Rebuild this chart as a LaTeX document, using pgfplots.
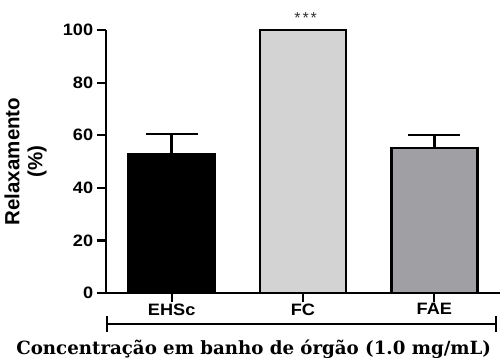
\documentclass[border=0pt]{standalone}
\usepackage{fontspec}
\setmainfont{Liberation Sans}
\newfontfamily\serifb{DejaVu Serif}
\usepackage{pgfplots}
\pgfplotsset{compat=1.18}
\definecolor{fcgray}{RGB}{211,211,211}
\definecolor{faegray}{RGB}{160,160,164}
\begin{document}
\begin{tikzpicture}
\begin{axis}[
  at={(0pt,0pt)}, anchor=south west,
  scale only axis, width=394pt, height=263pt,
  xmin=-0.5, xmax=2.5, ymin=0, ymax=100,
  axis x line=bottom, axis y line=left,
  axis line style={-, line width=2.4pt},
  xtick={0,1,2}, xticklabels={EHSc,FC,FAE},
  ytick={0,20,40,60,80,100},
  tick align=outside, major tick length=9pt,
  tick style={line width=2.2pt, black},
  /pgf/number format/assume math mode=true,
  ticklabel style={font=\fontsize{16.5}{18}\selectfont\bfseries, xscale=1.1},
  xticklabel style={yshift=2pt},
  ylabel={Relaxamento\\(\%)},
  ylabel style={align=center, font=\fontsize{20.5}{23}\selectfont\bfseries, yshift=9pt},
  clip=false,
  ybar, bar width=86pt,
]
\addplot[bar shift=0pt, fill=black, draw=black, line width=2.6pt,
  error bars/.cd, y dir=plus, y explicit,
  error bar style={line width=2.4pt, black},
  error mark options={rotate=90, line width=2.4pt, mark size=26pt, black}]
  coordinates {(0,52.9) +- (0,7.6)};
\addplot[bar shift=0pt, fill=fcgray, draw=black, line width=2.6pt]
  coordinates {(1,100)};
\addplot[bar shift=0pt, fill=faegray, draw=black, line width=2.6pt,
  error bars/.cd, y dir=plus, y explicit,
  error bar style={line width=2.4pt, black},
  error mark options={rotate=90, line width=2.4pt, mark size=26pt, black}]
  coordinates {(2,55.1) +- (0,5.0)};
\node[font=\fontsize{16}{18}\selectfont, text=black!80] at (axis cs:1.02,104.6) {*\kern1.8pt*\kern1.8pt*};
\draw[line width=2.2pt] (axis cs:-0.49,-11.8) -- (axis cs:2.47,-11.8);
\draw[line width=2.2pt] (axis cs:-0.49,-8.9) -- (axis cs:-0.49,-14.7);
\draw[line width=2.2pt] (axis cs:2.47,-8.9) -- (axis cs:2.47,-14.7);
\node[font=\serifb\bfseries\fontsize{18.2}{20}\selectfont] at (axis cs:0.625,-21.3) {Concentração em banho de órgão (1.0 mg/mL)};
\end{axis}
\pgfresetboundingbox
\path[use as bounding box] (-106pt,-66pt) rectangle (394pt,293pt);
\end{tikzpicture}
\end{document}
